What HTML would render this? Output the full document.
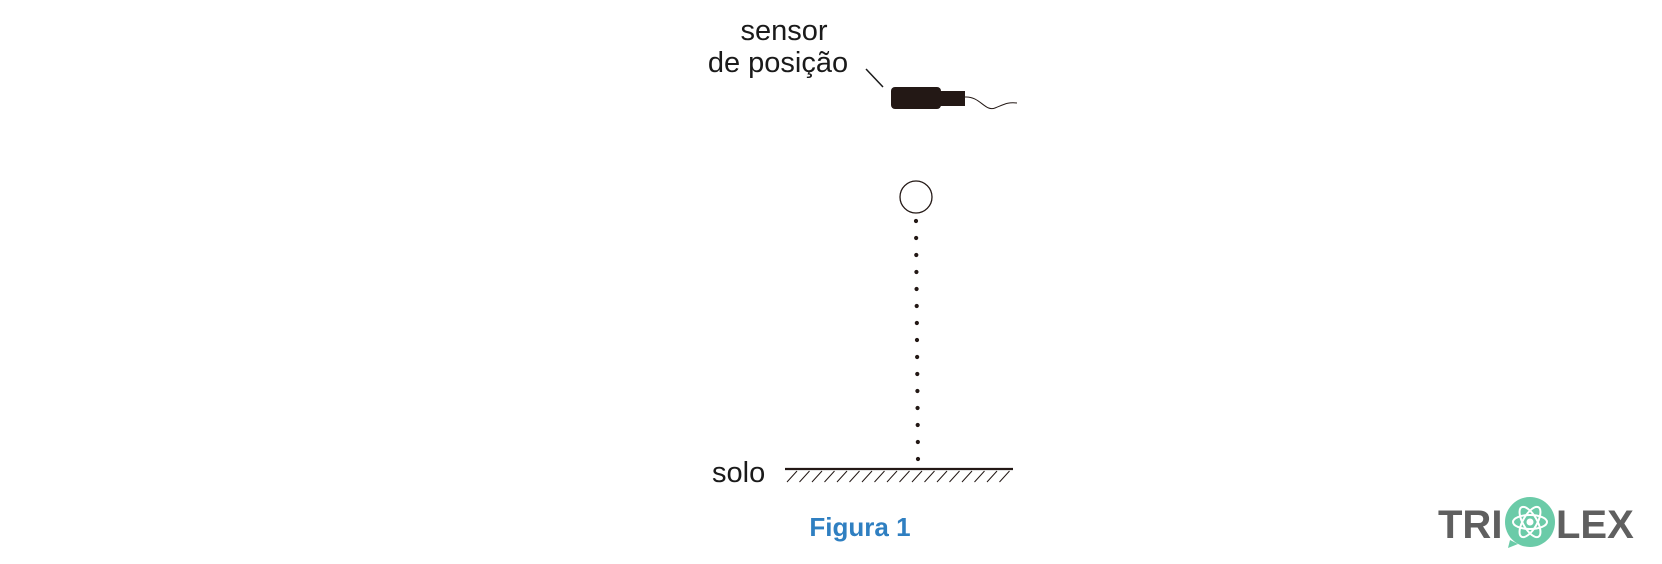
<!DOCTYPE html>
<html><head><style>
html,body{margin:0;padding:0;background:#fff;}
svg{display:block}
</style></head><body>
<svg width="1662" height="564" viewBox="0 0 1662 564" xmlns="http://www.w3.org/2000/svg">
<g font-family="Liberation Sans, sans-serif" fill="#1a1a1a" font-size="29">
<text x="784" y="40" text-anchor="middle">sensor</text>
<text x="778" y="72" text-anchor="middle">de posição</text>
<text x="712" y="482">solo</text>
</g>
<line x1="866" y1="69" x2="883" y2="87" stroke="#1a1a1a" stroke-width="1.5"/>
<rect x="891" y="87" width="50" height="22" rx="4" fill="#231815"/>
<rect x="938" y="91" width="27" height="15" fill="#231815"/>
<path d="M965 97 C980 96,985 112,995 108 S1008 102,1017 103" fill="none" stroke="#231815" stroke-width="1"/>
<circle cx="916" cy="197" r="16" fill="none" stroke="#231815" stroke-width="1.3"/>
<line x1="916" y1="221" x2="918" y2="460" stroke="#231815" stroke-width="4.2" stroke-linecap="round" stroke-dasharray="0 17"/>
<line x1="785" y1="469" x2="1013" y2="469" stroke="#231815" stroke-width="2.2"/>
<g stroke="#231815" stroke-width="1">
<path d="M787 482 L797 471 M799.5 482 L809.5 471 M812 482 L822 471 M824.5 482 L834.5 471 M837 482 L847 471 M849.5 482 L859.5 471 M862 482 L872 471 M874.5 482 L884.5 471 M887 482 L897 471 M899.5 482 L909.5 471 M912 482 L922 471 M924.5 482 L934.5 471 M937 482 L947 471 M949.5 482 L959.5 471 M962 482 L972 471 M974.5 482 L984.5 471 M987 482 L997 471 M999.5 482 L1009.5 471"/>
</g>
<text x="860" y="536" text-anchor="middle" font-family="Liberation Sans, sans-serif" font-weight="bold" font-size="26" fill="#2f7fc1">Figura 1</text>
<g font-family="Liberation Sans, sans-serif" font-weight="bold" font-size="40" fill="#5f5f5f">
<text x="1438" y="538">TRI</text>
<text x="1556" y="538">LEX</text>
</g>
<circle cx="1530" cy="522" r="25" fill="#6bcba8"/>
<path d="M1510 540 L1508 548 L1518 544 Z" fill="#6bcba8"/>
<g fill="none" stroke="#fff" stroke-width="2">
<ellipse cx="1530" cy="522" rx="17" ry="7"/>
<ellipse cx="1530" cy="522" rx="17" ry="7" transform="rotate(60 1530 522)"/>
<ellipse cx="1530" cy="522" rx="17" ry="7" transform="rotate(-60 1530 522)"/>
</g>
<circle cx="1530" cy="522" r="3.5" fill="#fff"/>
</svg>
</body></html>
